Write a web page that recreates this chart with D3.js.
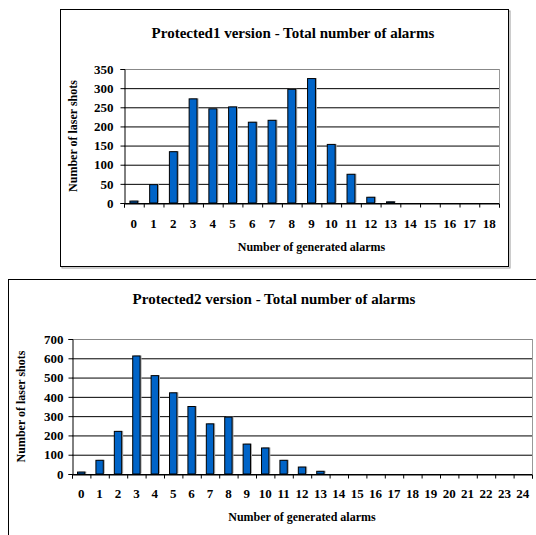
<!DOCTYPE html>
<html>
<head>
<meta charset="utf-8">
<script src="https://cdn.jsdelivr.net/npm/d3@7"></script>
<style>
  body { margin: 0; background: #fff; }
  svg { display: block; font-family: "Liberation Serif", "Times New Roman", serif; font-weight: bold; }
</style>
</head>
<body>
<div id="chart"></div>
<script>
// data
const alarms1 = d3.range(0, 19)
const shots1 = [5, 48, 134, 272, 246, 251, 211, 216, 297, 325, 153, 75, 15, 3, 0, 0, 0, 0, 0]
const yTicks1 = [0, 50, 100, 150, 200, 250, 300, 350]

const alarms2 = d3.range(0, 25)
const shots2 = [10, 71, 221, 612, 510, 421, 350, 260, 295, 155, 135, 71, 36, 14, 0, 0, 0, 0, 0, 0, 0, 0, 0, 0, 0]
const yTicks2 = [0, 100, 200, 300, 400, 500, 600, 700]

const titles = ['Protected1 version - Total number of alarms', 'Protected2 version - Total number of alarms']
const xTitle = 'Number of generated alarms'
const yTitle = 'Number of laser shots'

const svg = d3.select('#chart')
  .append('svg')
    .attr('width', 536)
    .attr('height', 535)

Histogram({
  cats: alarms1, vals: shots1, ticks: yTicks1, title: titles[0],
  box: { x: 60.5, y: 9.5, w: 448, h: 257 },
  plot: { left: 124, right: 499, top: 69, bottom: 203 },
  titlePos: [293, 38], xLabY: 228, xTitleY: 251, yTitleX: 77, yPad: 7
})

Histogram({
  cats: alarms2, vals: shots2, ticks: yTicks2, title: titles[1],
  box: { x: 8.5, y: 279.5, w: 560, h: 300 },
  plot: { left: 72, right: 532, top: 339, bottom: 474 },
  titlePos: [274, 304], xLabY: 498, xTitleY: 521, yTitleX: 25, yPad: 5
})

function Histogram (o) {
  const { plot, box } = o
  const g = svg.append('g')

  // frame round the whole chart, with a little shadow
  g.append('rect')
    .attr('x', box.x + 1.5).attr('y', box.y + 1.5)
    .attr('width', box.w).attr('height', box.h)
    .attr('fill', 'none').attr('stroke', '#999').attr('stroke-width', 1)
  g.append('rect')
    .attr('x', box.x).attr('y', box.y)
    .attr('width', box.w).attr('height', box.h)
    .attr('fill', '#fff').attr('stroke', '#000').attr('stroke-width', 1)

  g.append('text')
    .attr('x', o.titlePos[0]).attr('y', o.titlePos[1])
    .attr('text-anchor', 'middle')
    .attr('font-size', 15)
    .text(o.title)

  const x = d3.scaleBand()
    .domain(o.cats)
    .range([plot.left, plot.right])
    .paddingInner(0.6)
    .paddingOuter(0.3)

  const xEdge = d3.scaleLinear()
    .domain([0, o.cats.length])
    .range([plot.left, plot.right])

  const y = d3.scaleLinear()
    .domain([0, d3.max(o.ticks)])
    .range([plot.bottom, plot.top])

  // grid
  g.append('g')
    .attr('transform', `translate(${plot.left}, 0)`)
    .call(d3.axisLeft(y).tickValues(o.ticks).tickSize(-(plot.right - plot.left)).tickFormat(''))
    .call(a => a.select('.domain').remove())
    .call(a => a.selectAll('line').attr('stroke', '#000').attr('stroke-width', 1))
    .call(a => a.selectAll('.tick').filter(d => d === d3.max(o.ticks)).select('line').attr('stroke', '#888'))

  // plot area right border
  g.append('line')
    .attr('x1', plot.right + 0.5).attr('x2', plot.right + 0.5)
    .attr('y1', plot.top).attr('y2', plot.bottom)
    .attr('stroke', '#999')

  const rows = o.vals.map((v, i) => ({ c: o.cats[i], v })).filter(d => d.v > 0)

  // bars: shadow then bar
  const bars = g.append('g')
  bars.selectAll('.shadow')
    .data(rows)
    .enter()
    .append('rect')
      .attr('class', 'shadow')
      .attr('x', d => x(d.c) + 1.5)
      .attr('y', d => y(d.v) - 0.5)
      .attr('width', x.bandwidth())
      .attr('height', d => y(0) - y(d.v))
      .attr('fill', '#aaa')
  bars.selectAll('.bar')
    .data(rows)
    .enter()
    .append('rect')
      .attr('class', 'bar')
      .attr('x', d => x(d.c))
      .attr('y', d => y(d.v))
      .attr('width', x.bandwidth())
      .attr('height', d => y(0) - y(d.v))
      .attr('fill', '#0064c8')
      .attr('stroke', '#000')
      .attr('stroke-width', 1)

  // y axis
  g.append('g')
    .attr('transform', `translate(${plot.left + 0.5}, 0)`)
    .call(d3.axisLeft(y).tickValues(o.ticks).tickSize(4).tickPadding(o.yPad))
    .call(styleAxis)

  // x axis: ticks on band edges, labels on band centres
  g.append('g')
    .attr('transform', `translate(0, ${plot.bottom + 0.5})`)
    .call(d3.axisBottom(xEdge).tickValues(d3.range(o.cats.length + 1)).tickSize(4).tickFormat(''))
    .call(styleAxis)

  g.append('g')
    .selectAll('text')
    .data(o.cats)
    .enter()
    .append('text')
      .attr('x', d => x(d) + x.bandwidth() / 2)
      .attr('y', o.xLabY)
      .attr('text-anchor', 'middle')
      .attr('font-size', 13)
      .text(d => d)

  g.append('text')
    .attr('x', (plot.left + plot.right) / 2)
    .attr('y', o.xTitleY)
    .attr('text-anchor', 'middle')
    .attr('font-size', 12)
    .text(xTitle)

  g.append('text')
    .attr('transform', `translate(${o.yTitleX}, ${(plot.top + plot.bottom) / 2}) rotate(-90)`)
    .attr('text-anchor', 'middle')
    .attr('font-size', 12)
    .text(yTitle)

  function styleAxis (a) {
    a.selectAll('.domain').attr('stroke', '#000').attr('stroke-width', 1)
    a.selectAll('line').attr('stroke', '#000').attr('stroke-width', 1)
    a.selectAll('text')
      .attr('font-family', '"Liberation Serif", serif')
      .attr('font-weight', 'bold')
      .attr('font-size', 13)
      .attr('fill', '#000')
  }
}
</script>
</body>
</html>
